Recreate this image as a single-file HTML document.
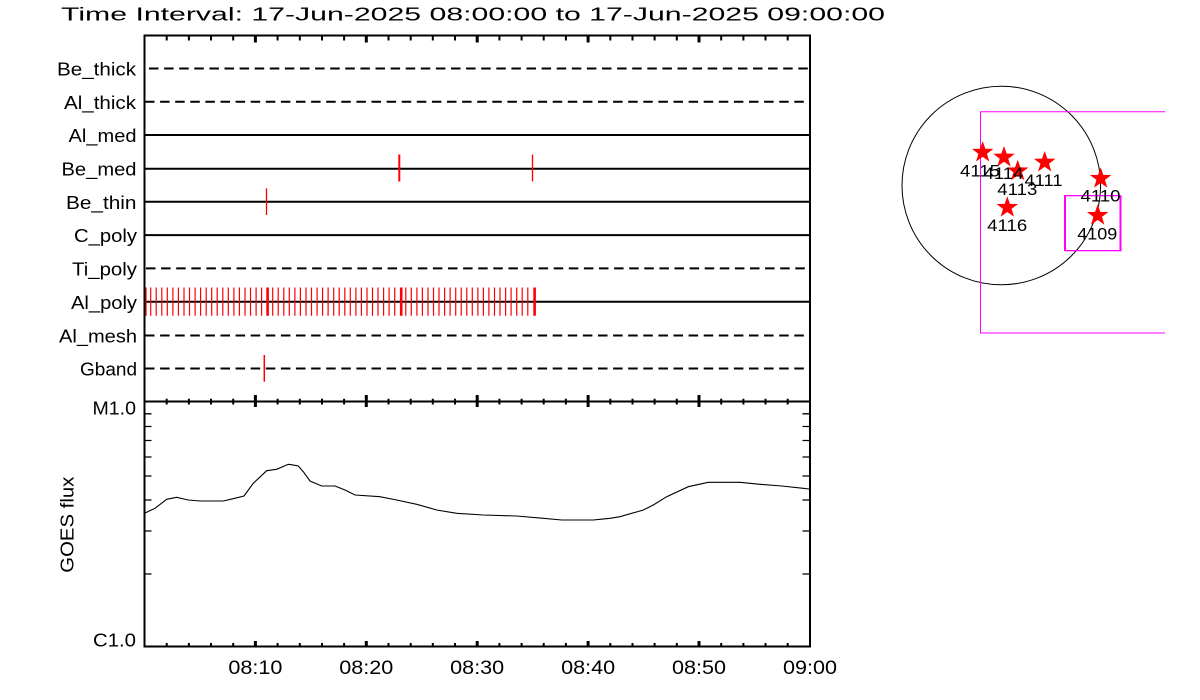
<!DOCTYPE html>
<html>
<head>
<meta charset="utf-8">
<style>
html,body{margin:0;padding:0;background:#fff;}
svg{display:block;}
text{font-family:"Liberation Sans",sans-serif;fill:#000;}
</style>
</head>
<body>
<svg width="1200" height="700" viewBox="0 0 1200 700" xmlns="http://www.w3.org/2000/svg">
<defs>
<polygon id="star" points="0,-11.3 2.65,-3.64 10.75,-3.49 4.28,1.39 6.64,9.14 0,4.5 -6.64,9.14 -4.28,1.39 -10.75,-3.49 -2.65,-3.64" fill="#ff0000"/>
</defs>
<rect x="0" y="0" width="1200" height="700" fill="#fff"/>

<!-- Title -->
<text x="61" y="20.7" font-size="18" textLength="824" lengthAdjust="spacingAndGlyphs">Time Interval: 17-Jun-2025 08:00:00 to 17-Jun-2025 09:00:00</text>

<!-- Row lines (top panel) -->
<g stroke="#000" stroke-width="2" fill="none">
  <line x1="149" y1="68.5" x2="810" y2="68.5" stroke-dasharray="9.5 5.6"/>
  <line x1="145" y1="101.8" x2="810" y2="101.8" stroke-dasharray="9.5 5.6"/>
  <line x1="144.5" y1="135" x2="810" y2="135"/>
  <line x1="144.5" y1="168.7" x2="810" y2="168.7"/>
  <line x1="144.5" y1="201.8" x2="810" y2="201.8"/>
  <line x1="144.5" y1="235.1" x2="810" y2="235.1"/>
  <line x1="146" y1="268.4" x2="810" y2="268.4" stroke-dasharray="9.5 5.6"/>
  <line x1="144.5" y1="301.8" x2="810" y2="301.8"/>
  <line x1="145" y1="335.5" x2="810" y2="335.5" stroke-dasharray="9.5 5.6"/>
  <line x1="145" y1="368.5" x2="810" y2="368.5" stroke-dasharray="9.5 5.6"/>
</g>

<!-- Row labels -->
<g font-size="18" text-anchor="end">
  <text x="136" y="75.5" textLength="79" lengthAdjust="spacingAndGlyphs">Be_thick</text>
  <text x="136" y="108.8" textLength="72" lengthAdjust="spacingAndGlyphs">Al_thick</text>
  <text x="136.5" y="142" textLength="68" lengthAdjust="spacingAndGlyphs">Al_med</text>
  <text x="136.5" y="175.7" textLength="75" lengthAdjust="spacingAndGlyphs">Be_med</text>
  <text x="136.5" y="208.8" textLength="70.5" lengthAdjust="spacingAndGlyphs">Be_thin</text>
  <text x="137" y="242.1" textLength="63" lengthAdjust="spacingAndGlyphs">C_poly</text>
  <text x="137" y="275.4" textLength="65" lengthAdjust="spacingAndGlyphs">Ti_poly</text>
  <text x="137" y="308.8" textLength="66" lengthAdjust="spacingAndGlyphs">Al_poly</text>
  <text x="137" y="342.5" textLength="78" lengthAdjust="spacingAndGlyphs">Al_mesh</text>
  <text x="137" y="375.5" textLength="57" lengthAdjust="spacingAndGlyphs">Gband</text>
</g>

<!-- Red event marks -->
<g stroke="#ff0000" fill="none">
  <line x1="399.3" y1="154.5" x2="399.3" y2="181.5" stroke-width="2"/>
  <line x1="532.5" y1="154.5" x2="532.5" y2="181.5" stroke-width="1.3"/>
  <line x1="266.5" y1="188.3" x2="266.5" y2="215" stroke-width="1.3"/>
  <line x1="264.3" y1="355" x2="264.3" y2="381.7" stroke-width="1.5"/>
  <path stroke-width="1.2" d="M146,287.5V315.7 M150.7,287.5V315.7 M156.2,287.5V315.7 M161.8,287.5V315.7 M167.3,287.5V315.7 M172.9,287.5V315.7 M178.4,287.5V315.7 M184.0,287.5V315.7 M189.5,287.5V315.7 M195.1,287.5V315.7 M200.6,287.5V315.7 M206.2,287.5V315.7 M211.7,287.5V315.7 M217.2,287.5V315.7 M222.8,287.5V315.7 M228.3,287.5V315.7 M233.9,287.5V315.7 M239.4,287.5V315.7 M245.0,287.5V315.7 M250.5,287.5V315.7 M256.1,287.5V315.7 M261.6,287.5V315.7 M272.7,287.5V315.7 M278.2,287.5V315.7 M283.8,287.5V315.7 M289.3,287.5V315.7 M294.9,287.5V315.7 M300.4,287.5V315.7 M306.0,287.5V315.7 M311.5,287.5V315.7 M317.1,287.5V315.7 M322.6,287.5V315.7 M328.1,287.5V315.7 M333.7,287.5V315.7 M339.2,287.5V315.7 M344.8,287.5V315.7 M350.3,287.5V315.7 M355.9,287.5V315.7 M361.4,287.5V315.7 M367.0,287.5V315.7 M372.5,287.5V315.7 M378.0,287.5V315.7 M383.6,287.5V315.7 M389.1,287.5V315.7 M394.7,287.5V315.7 M405.8,287.5V315.7 M411.3,287.5V315.7 M416.9,287.5V315.7 M422.4,287.5V315.7 M428.0,287.5V315.7 M433.5,287.5V315.7 M439.0,287.5V315.7 M444.6,287.5V315.7 M450.1,287.5V315.7 M455.7,287.5V315.7 M461.2,287.5V315.7 M466.8,287.5V315.7 M472.3,287.5V315.7 M477.9,287.5V315.7 M483.4,287.5V315.7 M488.9,287.5V315.7 M494.5,287.5V315.7 M500.0,287.5V315.7 M505.6,287.5V315.7 M511.1,287.5V315.7 M516.7,287.5V315.7 M522.2,287.5V315.7 M527.8,287.5V315.7"/>
  <path stroke-width="2.6" d="M267.6,287.5V315.7 M401.2,287.5V315.7 M534.6,287.5V315.7"/>
</g>

<!-- GOES curve -->
<polyline fill="none" stroke="#000" stroke-width="1.1" points="144.5,513.3 155,508.3 166.7,499.3 176.7,497.3 188.3,500 200,501 223.3,501 233.3,498.7 244,496 253.3,483.3 266.7,470.7 276.7,469.3 288.3,464.3 292,464.8 298.3,466 303.3,471.7 310,481 321.7,486 335,486 345,490 355,495 380,496.7 396.7,500 416.7,504.3 436.7,510 456.7,513.3 483.3,515 516.7,516 543.3,518.3 561.7,520 593.3,520 600,519.3 610,518.3 620,516.7 643.3,510 653.3,505 666.7,496.7 688.3,486.7 708.3,482.3 740,482.3 760,484.3 781.7,486 803.3,488.3 809,489"/>

<!-- Axes frame -->
<g stroke="#000" stroke-width="2" fill="none">
  <line x1="144.5" y1="34.5" x2="144.5" y2="647.5"/>
  <line x1="810" y1="34.5" x2="810" y2="647.5"/>
  <line x1="143.5" y1="35.5" x2="811" y2="35.5"/>
  <line x1="143.5" y1="401.5" x2="811" y2="401.5"/>
  <line x1="143.5" y1="646.5" x2="811" y2="646.5"/>
</g>

<!-- X ticks -->
<g stroke="#000" fill="none">
  <path stroke-width="2" d="M166.7,36V40.5 M188.9,36V40.5 M211.0,36V40.5 M233.2,36V40.5 M277.6,36V40.5 M299.8,36V40.5 M322.0,36V40.5 M344.1,36V40.5 M388.5,36V40.5 M410.7,36V40.5 M432.8,36V40.5 M455.0,36V40.5 M499.4,36V40.5 M521.6,36V40.5 M543.7,36V40.5 M565.9,36V40.5 M610.3,36V40.5 M632.5,36V40.5 M654.6,36V40.5 M676.8,36V40.5 M721.2,36V40.5 M743.4,36V40.5 M765.5,36V40.5 M787.7,36V40.5"/>
  <path stroke-width="3" d="M255.4,36V42.5 M366.3,36V42.5 M477.2,36V42.5 M588.1,36V42.5 M699.0,36V42.5"/>
  <path stroke-width="2" d="M166.7,398.8V404.5 M188.9,398.8V404.5 M211.0,398.8V404.5 M233.2,398.8V404.5 M277.6,398.8V404.5 M299.8,398.8V404.5 M322.0,398.8V404.5 M344.1,398.8V404.5 M388.5,398.8V404.5 M410.7,398.8V404.5 M432.8,398.8V404.5 M455.0,398.8V404.5 M499.4,398.8V404.5 M521.6,398.8V404.5 M543.7,398.8V404.5 M565.9,398.8V404.5 M610.3,398.8V404.5 M632.5,398.8V404.5 M654.6,398.8V404.5 M676.8,398.8V404.5 M721.2,398.8V404.5 M743.4,398.8V404.5 M765.5,398.8V404.5 M787.7,398.8V404.5"/>
  <path stroke-width="3" d="M255.4,395V407 M366.3,395V407 M477.2,395V407 M588.1,395V407 M699.0,395V407"/>
  <path stroke-width="2" d="M166.7,643V646 M188.9,643V646 M211.0,643V646 M233.2,643V646 M277.6,643V646 M299.8,643V646 M322.0,643V646 M344.1,643V646 M388.5,643V646 M410.7,643V646 M432.8,643V646 M455.0,643V646 M499.4,643V646 M521.6,643V646 M543.7,643V646 M565.9,643V646 M610.3,643V646 M632.5,643V646 M654.6,643V646 M676.8,643V646 M721.2,643V646 M743.4,643V646 M765.5,643V646 M787.7,643V646"/>
  <path stroke-width="3" d="M255.4,641V646 M366.3,641V646 M477.2,641V646 M588.1,641V646 M699.0,641V646"/>
  <path stroke-width="1.3" d="M145,574H151.5 M145,531H151.5 M145,500H151.5 M145,476H151.5 M145,457H151.5 M145,440.5H151.5 M145,426.5H151.5 M145,413.8H151.5
  M809,574H802.5 M809,531H802.5 M809,500H802.5 M809,476H802.5 M809,457H802.5 M809,440.5H802.5 M809,426.5H802.5 M809,413.8H802.5"/>
</g>

<!-- Y labels -->
<g font-size="18" text-anchor="end">
  <text x="136" y="414.3" textLength="43.5" lengthAdjust="spacingAndGlyphs">M1.0</text>
  <text x="136" y="646.7" textLength="43" lengthAdjust="spacingAndGlyphs">C1.0</text>
</g>
<text font-size="18" text-anchor="middle" transform="translate(73.3,524.7) rotate(-90)" textLength="96" lengthAdjust="spacingAndGlyphs">GOES flux</text>

<!-- X labels -->
<g font-size="19" text-anchor="middle">
  <text x="255.4" y="674" textLength="54" lengthAdjust="spacingAndGlyphs">08:10</text>
  <text x="366.3" y="674" textLength="54" lengthAdjust="spacingAndGlyphs">08:20</text>
  <text x="477.2" y="674" textLength="54" lengthAdjust="spacingAndGlyphs">08:30</text>
  <text x="588.1" y="674" textLength="54" lengthAdjust="spacingAndGlyphs">08:40</text>
  <text x="699.0" y="674" textLength="54" lengthAdjust="spacingAndGlyphs">08:50</text>
  <text x="810" y="674" textLength="54" lengthAdjust="spacingAndGlyphs">09:00</text>
</g>

<!-- Right map panel -->
<circle cx="1001.3" cy="185.5" r="99.3" fill="none" stroke="#000" stroke-width="1"/>
<polyline points="1165,111.7 980.5,111.7 980.5,333 1165,333" fill="none" stroke="#ff00ff" stroke-width="1"/>
<rect x="1064.5" y="195.5" width="55.5" height="55" fill="none" stroke="#ff00ff" stroke-width="1"/>
<rect x="1065.5" y="195.8" width="55.5" height="55" fill="none" stroke="#ff00ff" stroke-width="1"/>

<use href="#star" x="982.7" y="152.4"/>
<use href="#star" x="1004" y="157.3"/>
<use href="#star" x="1017.7" y="171"/>
<use href="#star" x="1044.7" y="162.3"/>
<use href="#star" x="1100.7" y="178.5"/>
<use href="#star" x="1097.7" y="215.5"/>
<use href="#star" x="1007.3" y="207.5"/>

<g font-size="17" text-anchor="middle">
  <text x="980" y="176.7" textLength="40" lengthAdjust="spacingAndGlyphs">4115</text>
  <text x="1003.5" y="179" textLength="40" lengthAdjust="spacingAndGlyphs">4114</text>
  <text x="1017.3" y="195" textLength="40" lengthAdjust="spacingAndGlyphs">4113</text>
  <text x="1043.5" y="186" textLength="38" lengthAdjust="spacingAndGlyphs">4111</text>
  <text x="1100.5" y="201.7" textLength="40" lengthAdjust="spacingAndGlyphs">4110</text>
  <text x="1097.3" y="239.3" textLength="40" lengthAdjust="spacingAndGlyphs">4109</text>
  <text x="1007.2" y="231" textLength="40" lengthAdjust="spacingAndGlyphs">4116</text>
</g>
</svg>
</body>
</html>
